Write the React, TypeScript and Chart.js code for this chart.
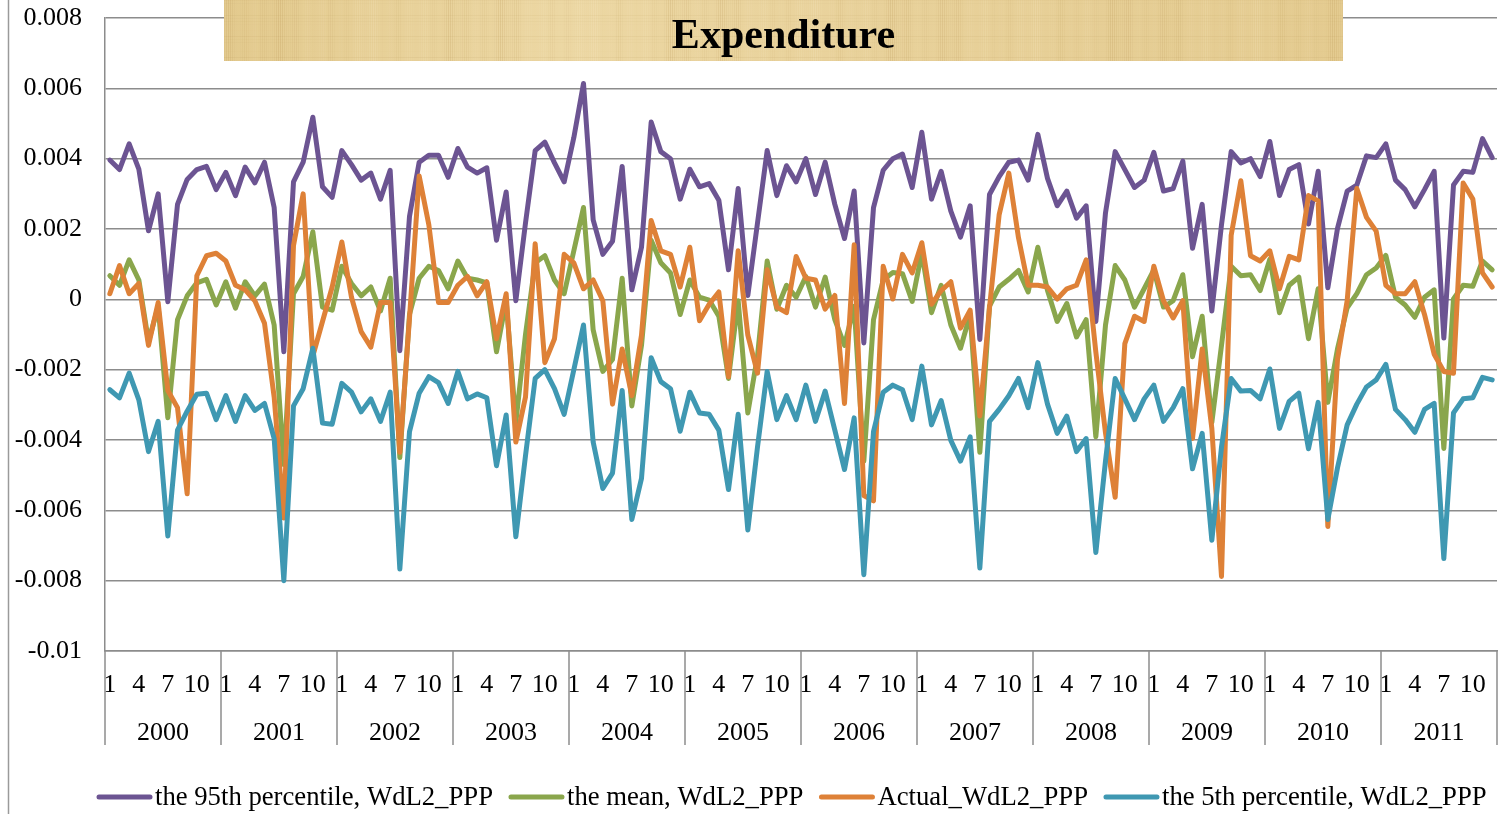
import React, { useEffect, useRef } from 'react';
import { Chart, registerables } from 'chart.js';

Chart.register(...registerables);

const FONT = "'Liberation Serif', 'Times New Roman', serif";

const years = ['2000', '2001', '2002', '2003', '2004', '2005', '2006', '2007', '2008', '2009', '2010', '2011'];
const months = ['1', '2', '3', '4', '5', '6', '7', '8', '9', '10', '11', '12'];
const monthTicks = ['1', '4', '7', '10'];
const categories = years.flatMap((y) => months.map((m) => `${y}-${m}`));

const seriesNames = [
  'the 95th percentile, WdL2_PPP',
  'the mean, WdL2_PPP',
  'Actual_WdL2_PPP',
  'the 5th percentile, WdL2_PPP',
];
const seriesColors = ['#6C5492', '#8AA64C', '#DE8137', '#3F98B2'];

const p95 = [
  0.00396, 0.00369, 0.00442, 0.0037, 0.00195, 0.003, -0.00007, 0.0027, 0.00341, 0.00369, 0.00378, 0.00312,
  0.00361, 0.00295, 0.00376, 0.00331, 0.0039, 0.00261, -0.00149, 0.00334, 0.0039, 0.00518, 0.0032, 0.0029,
  0.00423, 0.00383, 0.00339, 0.00359, 0.00285, 0.00367, -0.00146, 0.00236, 0.0039, 0.0041, 0.0041, 0.00347,
  0.00429, 0.00376, 0.00359, 0.00374, 0.00168, 0.00305, -0.00004, 0.00217, 0.00423, 0.00447, 0.00388, 0.00334,
  0.0046, 0.00614, 0.00226, 0.00128, 0.00165, 0.00378, 0.00027, 0.00148, 0.00504, 0.0042, 0.004, 0.00285,
  0.0037, 0.0032, 0.00329, 0.00282, 0.00084, 0.00315, 0.00011, 0.00217, 0.00423, 0.00295, 0.0038, 0.00334,
  0.004, 0.00298, 0.0039, 0.0027, 0.00173, 0.00308, -0.00124, 0.00261, 0.00367, 0.004, 0.00413, 0.00318,
  0.00475, 0.00285, 0.00364, 0.00251, 0.00177, 0.00266, -0.00114, 0.00298, 0.00349, 0.0039, 0.00396, 0.00339,
  0.00469, 0.00344, 0.00266, 0.00308, 0.00231, 0.00266, -0.00063, 0.00246, 0.0042, 0.00369, 0.00318, 0.00339,
  0.00418, 0.00308, 0.00315, 0.00393, 0.00145, 0.0027, -0.00033, 0.00212, 0.0042, 0.00388, 0.004, 0.00349,
  0.00449, 0.00295, 0.00369, 0.00383, 0.00214, 0.00364, 0.00033, 0.00202, 0.00308, 0.00325, 0.00408, 0.00403,
  0.00442, 0.00339, 0.00312, 0.00263, 0.00312, 0.00364, -0.0011, 0.00325, 0.00364, 0.00361, 0.00457, 0.00403,
];

const meanVals = [
  0.00067, 0.0004, 0.00112, 0.00055, -0.0012, -0.0002, -0.00337, -0.00058, 0.0001, 0.00047, 0.00057, -0.00016,
  0.0005, -0.00025, 0.0005, 0.0001, 0.00043, -0.00073, -0.0047, 0.00016, 0.00065, 0.00192, -0.00022, -0.00031,
  0.00094, 0.00045, 0.0001, 0.00035, -0.00033, 0.0006, -0.0045, -0.00043, 0.0006, 0.00094, 0.00082, 0.0003,
  0.00109, 0.0006, 0.00055, 0.00047, -0.00149, -0.00004, -0.0035, -0.001, 0.00104, 0.00124, 0.00055, 0.00016,
  0.00138, 0.00261, -0.00087, -0.00205, -0.00171, 0.0006, -0.00303, -0.00131, 0.00168, 0.00104, 0.00075, -0.00043,
  0.00055, 0.00006, -0.00002, -0.00048, -0.00225, -0.00004, -0.00323, -0.00161, 0.00109, -0.00028, 0.0004, 0.00006,
  0.00065, -0.00022, 0.00063, -0.00058, -0.00131, -0.0002, -0.0046, -0.00058, 0.00055, 0.00076, 0.00073, -0.00006,
  0.00133, -0.00038, 0.0004, -0.00073, -0.00139, -0.00043, -0.00435, -0.00019, 0.00035, 0.00057, 0.00082, 0.00021,
  0.00148, 0.00025, -0.00063, -0.00012, -0.00107, -0.00058, -0.00391, -0.00073, 0.00096, 0.00055, -0.00022, 0.0003,
  0.00084, -0.00022, -0.00004, 0.0007, -0.00163, -0.00048, -0.0035, -0.00131, 0.00094, 0.00067, 0.0007, 0.00025,
  0.00114, -0.00038, 0.0004, 0.00063, -0.00112, 0.0003, -0.00293, -0.00141, -0.00024, 0.00016, 0.0007, 0.00089,
  0.00125, 0.00006, -0.00016, -0.00051, 0.00006, 0.00027, -0.00424, 0.00001, 0.0004, 0.00037, 0.00109, 0.00084,
];

const actualVals = [
  0.00016, 0.00096, 0.00016, 0.00045, -0.00131, -0.00009, -0.00259, -0.00308, -0.00553, 0.00067, 0.00124, 0.00131,
  0.00109, 0.0004, 0.00027, -0.00004, -0.00068, -0.00278, -0.00622, 0.00153, 0.003, -0.00161, -0.00063, 0.00035,
  0.00163, 0.00006, -0.00092, -0.00136, -0.00009, -0.00009, -0.00435, -0.00053, 0.00351, 0.00212, -0.00009, -0.00009,
  0.0004, 0.00065, 0.0001, 0.0005, -0.00112, 0.00016, -0.00406, -0.00278, 0.00158, -0.0018, -0.00112, 0.00128,
  0.00104, 0.0003, 0.00055, -0.00004, -0.00298, -0.00141, -0.00274, -0.00102, 0.00224, 0.00138, 0.00128, 0.00035,
  0.00148, -0.00061, -0.00014, 0.00021, -0.0022, 0.00138, -0.00102, -0.0021, 0.00084, -0.00022, -0.00038, 0.00122,
  0.0006, 0.00055, -0.00028, 0.00011, -0.00296, 0.00155, -0.00558, -0.00573, 0.00094, 0.00001, 0.00128, 0.00075,
  0.00161, -0.00014, 0.00025, 0.0005, -0.00082, -0.00031, -0.00332, -0.00024, 0.00241, 0.00359, 0.00175, 0.0004,
  0.0004, 0.00035, 0.00001, 0.0003, 0.0004, 0.00112, -0.0015, -0.0038, -0.00563, -0.00126, -0.00048, -0.00063,
  0.00094, -0.00004, -0.00053, -0.00004, -0.00396, -0.00141, -0.00367, -0.00788, 0.00182, 0.00337, 0.00124, 0.00109,
  0.00138, 0.0003, 0.00122, 0.00112, 0.00295, 0.0028, -0.00646, -0.00171, -0.00004, 0.00315, 0.00233, 0.00194,
  0.0004, 0.00016, 0.00016, 0.0005, -0.00043, -0.00156, -0.00205, -0.0021, 0.00331, 0.00285, 0.00075, 0.00035,
];

const p5 = [
  -0.00257, -0.0028, -0.0021, -0.00286, -0.00433, -0.00347, -0.00673, -0.00372, -0.00318, -0.0027, -0.00267, -0.00342,
  -0.00274, -0.00347, -0.00274, -0.00316, -0.00296, -0.00396, -0.008, -0.00303, -0.00254, -0.00139, -0.00352, -0.00355,
  -0.00239, -0.00264, -0.0032, -0.00283, -0.00347, -0.00264, -0.00767, -0.00376, -0.00267, -0.0022, -0.00237, -0.00296,
  -0.00205, -0.00283, -0.00269, -0.0028, -0.00473, -0.00329, -0.00675, -0.00445, -0.00225, -0.002, -0.00254, -0.00327,
  -0.002, -0.00073, -0.00406, -0.00538, -0.00494, -0.00259, -0.00626, -0.00509, -0.00166, -0.00234, -0.00254, -0.00375,
  -0.00264, -0.00323, -0.00327, -0.00372, -0.00541, -0.00327, -0.00656, -0.0042, -0.00205, -0.00342, -0.00274, -0.00342,
  -0.00244, -0.00347, -0.00261, -0.00372, -0.00484, -0.00337, -0.00783, -0.00376, -0.00264, -0.00244, -0.00257, -0.00342,
  -0.0019, -0.00357, -0.00288, -0.00401, -0.0046, -0.00391, -0.00764, -0.00347, -0.00313, -0.00274, -0.00225, -0.00308,
  -0.0018, -0.00298, -0.00381, -0.00332, -0.00433, -0.00396, -0.0072, -0.0046, -0.00225, -0.00283, -0.00342, -0.00283,
  -0.00244, -0.00347, -0.00308, -0.00254, -0.00482, -0.00381, -0.00685, -0.0042, -0.00225, -0.00261, -0.00259, -0.00283,
  -0.00198, -0.00367, -0.0029, -0.00267, -0.00425, -0.00293, -0.00626, -0.00479, -0.00357, -0.00298, -0.00249, -0.00229,
  -0.00185, -0.00313, -0.00342, -0.00378, -0.00313, -0.00296, -0.00737, -0.00323, -0.00283, -0.0028, -0.00222, -0.00229,
];

const titleText = 'Expenditure';

const GRID = '#8c8c8c';
const LINE_W = 5;

function drawTitleBox(ctx: CanvasRenderingContext2D) {
  const x0 = 224;
  const y0 = 0;
  const w = 1119;
  const h = 61;
  ctx.save();
  const g = ctx.createLinearGradient(x0, 0, x0 + w, 0);
  g.addColorStop(0, '#E3CA8E');
  g.addColorStop(0.3, '#ECD7A3');
  g.addColorStop(0.6, '#E8D19A');
  g.addColorStop(1, '#E4CB90');
  ctx.fillStyle = g;
  ctx.fillRect(x0, y0, w, h);
  // papyrus fibres
  for (let i = 0; i < w; i += 2) {
    const s = Math.sin(i * 0.37) + Math.sin(i * 0.113 + 1.3) + Math.sin(i * 0.029 + 0.4);
    const a = Math.max(0, s) * 0.06;
    ctx.fillStyle = `rgba(170,130,60,${a.toFixed(3)})`;
    ctx.fillRect(x0 + i, y0, 1, h);
    const b = Math.max(0, -s) * 0.06;
    ctx.fillStyle = `rgba(255,245,215,${b.toFixed(3)})`;
    ctx.fillRect(x0 + i + 1, y0, 1, h);
  }
  for (let j = 0; j < h; j += 3) {
    const s = Math.sin(j * 0.9) + Math.sin(j * 0.31 + 2.1);
    const a = Math.max(0, s) * 0.05;
    ctx.fillStyle = `rgba(160,120,55,${a.toFixed(3)})`;
    ctx.fillRect(x0, y0 + j, w, 1);
  }
  ctx.fillStyle = '#000';
  ctx.font = `bold 42px ${FONT}`;
  ctx.textAlign = 'center';
  ctx.textBaseline = 'alphabetic';
  ctx.fillText(titleText, x0 + w / 2, 48);
  ctx.restore();
}

function drawLegend(ctx: CanvasRenderingContext2D, chart: any) {
  ctx.save();
  ctx.font = `26.7px ${FONT}`;
  ctx.textBaseline = 'middle';
  ctx.textAlign = 'left';
  const cy = 797;
  let x = 97;
  chart.data.datasets.forEach((ds: any) => {
    ctx.strokeStyle = ds.borderColor;
    ctx.lineWidth = LINE_W;
    ctx.lineCap = 'round';
    ctx.beginPath();
    ctx.moveTo(x + 2, cy);
    ctx.lineTo(x + 53, cy);
    ctx.stroke();
    ctx.fillStyle = '#000';
    ctx.fillText(ds.label, x + 58, cy + 1);
    x += 58 + ctx.measureText(ds.label).width + 16;
  });
  ctx.restore();
}

const decorPlugin = {
  id: 'decor',
  afterDraw(chart: any) {
    const { ctx, chartArea } = chart;
    const xs = chart.scales.x;
    const n = categories.length;
    const step = xs.getPixelForValue(1) - xs.getPixelForValue(0);
    ctx.save();
    // year separators
    ctx.strokeStyle = GRID;
    ctx.lineWidth = 1.5;
    for (let k = 0; k <= years.length; k++) {
      const x = k * 12 >= n ? xs.getPixelForValue(n - 1) + step / 2 : xs.getPixelForValue(k * 12) - step / 2;
      ctx.beginPath();
      ctx.moveTo(x, chartArea.bottom);
      ctx.lineTo(x, chartArea.bottom + 94);
      ctx.stroke();
    }
    // year labels
    ctx.fillStyle = '#000';
    ctx.font = `26px ${FONT}`;
    ctx.textAlign = 'center';
    ctx.textBaseline = 'alphabetic';
    years.forEach((y, k) => {
      const a = xs.getPixelForValue(k * 12);
      const b = xs.getPixelForValue(k * 12 + 11);
      ctx.fillText(y, (a + b) / 2, chartArea.bottom + 89);
    });
    // outer chart border on the left
    ctx.strokeStyle = '#9a9a9a';
    ctx.lineWidth = 1.5;
    ctx.beginPath();
    ctx.moveTo(8.5, 0);
    ctx.lineTo(8.5, chart.height);
    ctx.stroke();
    ctx.restore();
    drawLegend(ctx, chart);
    drawTitleBox(ctx);
  },
};

export default function App() {
  const ref = useRef<HTMLCanvasElement | null>(null);

  useEffect(() => {
    if (!ref.current) return;
    const values = [p95, meanVals, actualVals, p5];
    const chart = new Chart(ref.current, {
      type: 'line',
      data: {
        labels: categories,
        datasets: values.map((v, i) => ({
          label: seriesNames[i],
          data: v,
          borderColor: seriesColors[i],
          backgroundColor: seriesColors[i],
          borderWidth: LINE_W,
          borderCapStyle: 'round',
          borderJoinStyle: 'round',
          pointRadius: 0,
          pointHoverRadius: 0,
          tension: 0,
          fill: false,
          order: 4 - i,
        })),
      },
      options: {
        animation: false,
        responsive: true,
        maintainAspectRatio: false,
        devicePixelRatio: 1,
        events: [],
        layout: { padding: { top: 18, right: 4, left: 0, bottom: 69 } },
        plugins: {
          tooltip: { enabled: false },
          title: { display: false },
          legend: { display: false },
        },
        scales: {
          x: {
            type: 'category',
            offset: true,
            grid: { display: false, drawTicks: false },
            border: { display: true, color: GRID, width: 1.5 },
            ticks: {
              autoSkip: false,
              maxRotation: 0,
              minRotation: 0,
              padding: 19,
              color: '#000',
              font: { family: FONT, size: 26 },
              callback: (_v: any, i: number) => {
                const m = categories[i].split('-')[1];
                return monthTicks.includes(m) ? m : '';
              },
            },
            afterFit: (s: any) => {
              s.height = 94;
              s.paddingLeft = 0;
              s.paddingRight = 0;
            },
          },
          y: {
            min: -0.01,
            max: 0.008,
            grid: { color: GRID, drawTicks: false, lineWidth: 1.5 },
            border: { display: true, color: GRID, width: 1.5 },
            ticks: {
              stepSize: 0.002,
              padding: 23,
              color: '#000',
              font: { family: FONT, size: 26 },
              callback: (v: any) => String(Number(Number(v).toFixed(3))),
            },
            afterFit: (s: any) => {
              s.width = 105;
              s.paddingTop = 0;
              s.paddingBottom = 0;
            },
          },
        },
      },
      plugins: [decorPlugin],
    } as any);
    return () => chart.destroy();
  }, []);

  return (
    <div style={{ position: 'fixed', left: 0, top: 0, width: 1501, height: 814, background: '#fff' }}>
      <canvas ref={ref} />
    </div>
  );
}
